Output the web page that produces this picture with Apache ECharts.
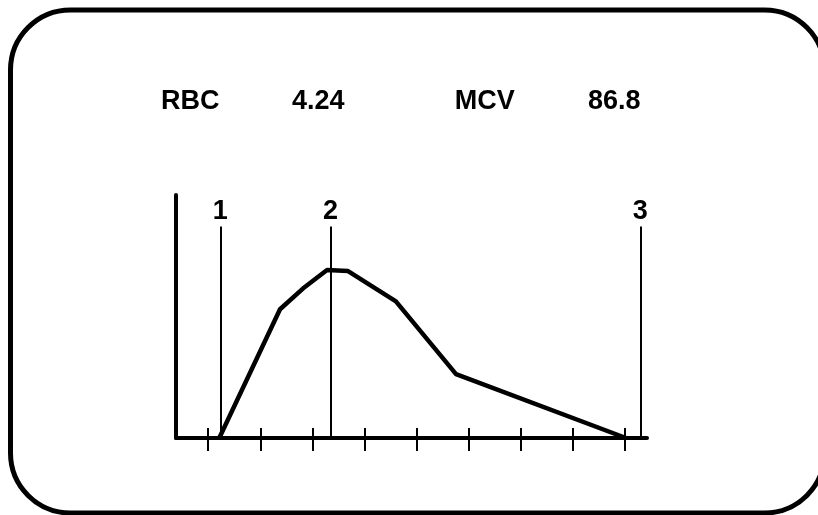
<!DOCTYPE html>
<html>
<head>
<meta charset="utf-8">
<script src="https://cdn.jsdelivr.net/npm/echarts@6/dist/echarts.min.js"></script>
<style>html,body{margin:0;padding:0;background:#fff}#c{width:818px;height:515px}</style>
</head>
<body>
<div id="c"></div>
<script>
// Histogram curve (x in fL, y relative count)
const curveX = [30.3, 59.5, 70.5, 82.1, 92.2, 115.2, 144.1, 225.8];
const curveY = [0, 53.0, 61.5, 69.1, 68.7, 56.2, 26.3, 0];
// Discriminator lines
const markerLabels = ['1', '2', '3'];
const markerX = [30.8, 83.8, 232.7];
const markerTop = 87;
// Tick positions
const tickValues = [25, 50, 75, 100, 125, 150, 175, 200, 225];
// Header texts
const headerTexts = ['RBC', '4.24', 'MCV', '86.8'];

const FONT = '"Liberation Sans", Arial, sans-serif';
const xMin = 9.5, xMax = 235.9;

const chart = echarts.init(document.getElementById('c'), null, {renderer: 'canvas'});

const headerX = [190.3, 318.3, 484.7, 614.2];
const graphics = [{
  type: 'rect',
  shape: {x: 10.5, y: 10, width: 814, height: 503, r: 60},
  style: {fill: 'none', stroke: '#000', lineWidth: 5},
  silent: true
}];
headerTexts.forEach((t, i) => {
  graphics.push({
    type: 'text',
    x: headerX[i], y: 102,
    style: {text: t, fill: '#000', font: 'bold 27px ' + FONT, textAlign: 'center', textVerticalAlign: 'middle'}
  });
});

const markData = markerX.map((x, i) => [
  {coord: [x, 0], name: markerLabels[i]},
  {coord: [x, markerTop]}
]);

chart.setOption({
  animation: false,
  backgroundColor: '#fff',
  graphic: graphics,
  grid: {left: 176, right: 171, top: 195, bottom: 77},
  xAxis: [{
    type: 'value', min: xMin, max: xMax,
    axisLine: {show: true, onZero: false, lineStyle: {color: '#000', width: 4}},
    axisTick: {show: false}, axisLabel: {show: false}, splitLine: {show: false}
  }, {
    type: 'value', min: xMin, max: xMax, position: 'bottom', offset: -10,
    axisLine: {show: false},
    axisTick: {show: true, customValues: tickValues, length: 23, lineStyle: {color: '#000', width: 2}},
    axisLabel: {show: false}, splitLine: {show: false}
  }],
  yAxis: {
    type: 'value', min: 0, max: 100,
    axisLine: {show: true, onZero: false, lineStyle: {color: '#000', width: 4}},
    axisTick: {show: false}, axisLabel: {show: false}, splitLine: {show: false}
  },
  series: [{
    type: 'line',
    data: curveX.map((x, i) => [x, curveY[i]]),
    symbol: 'none',
    lineStyle: {color: '#000', width: 4.5, join: 'round'},
    markLine: {
      silent: true, symbol: ['none', 'none'],
      lineStyle: {color: '#000', width: 2, type: 'solid'},
      label: {show: true, position: 'end', formatter: p => p.name, color: '#000',
        fontFamily: FONT, fontWeight: 'bold', fontSize: 27, distance: 2},
      data: markData
    }
  }]
});
</script>
</body>
</html>
